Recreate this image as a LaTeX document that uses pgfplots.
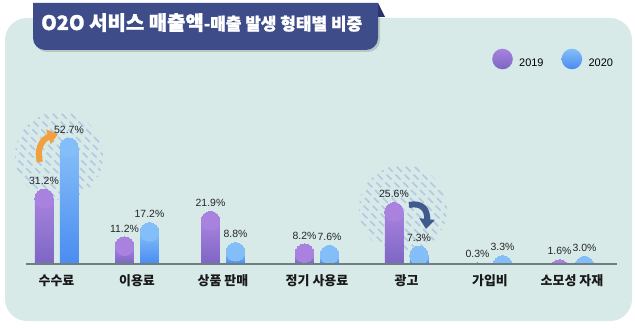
\documentclass[border=0pt]{standalone}
\usepackage{pgfplots}
\pgfplotsset{compat=1.18}
\usepackage{pgfplotstable}
\usepackage{fontspec}
\setmainfont{Liberation Sans}
\newfontfamily\kr{Noto Sans CJK KR}
\usetikzlibrary{arrows.meta}
\definecolor{panel}{HTML}{D7EAE8}
\definecolor{banner}{HTML}{3F4C8A}
\definecolor{bannerdk}{HTML}{2A3468}
\definecolor{pTop}{HTML}{A882DE}
\definecolor{pBot}{HTML}{7D66C4}
\definecolor{bTop}{HTML}{84BEF8}
\definecolor{bBot}{HTML}{4A8CF1}
\definecolor{baseln}{HTML}{6F7F80}
\definecolor{hatch}{HTML}{B4C7E4}
\definecolor{orng}{HTML}{F0A03E}
\definecolor{navyar}{HTML}{3E5A8E}
\pgfplotsset{/pgf/number format/assume math mode=true}
\pgfplotstableread{
x v19 v20
56.5 31.2 52.7
137 11.2 17.2
223 21.9 8.8
317 8.2 7.6
406.5 25.6 7.3
490 0.3 3.3
572 1.6 3.0
}\data
\def\rr{3.887}
\begin{document}
\begin{tikzpicture}[x=1bp,y=1bp]
\fill[white] (0,0) rectangle (635,327);
\begin{scope}[yshift=327bp,yscale=-1]
\fill[panel, rounded corners=22bp] (5,18) rectangle (632,321);
% banner shadow
\fill[black, opacity=0.15] (35,5) -- (380,5) -- (380,40) arc[start angle=0,end angle=90,radius=12] -- (47,52) arc[start angle=90,end angle=180,radius=12] -- cycle;
\fill[banner] (33,3) -- (378,3) -- (378,38) arc[start angle=0,end angle=90,radius=12] -- (45,50) arc[start angle=90,end angle=180,radius=12] -- cycle;
\fill[bannerdk] (378,3) -- (385,17) -- (378,17) -- cycle;
\node[anchor=base west, text=white, inner sep=0pt] at (41,30) {\kr\bfseries\addfontfeatures{FakeBold=1.3}{\fontsize{20}{22}\selectfont O2O 서비스 매출액}{\fontsize{17}{19}\selectfont -매출 발생 형태별 비중}};
% hatched circles
\begin{scope}
\clip (59,156) circle (44);
\foreach \i in {-117,-108,...,117} \draw[hatch, line width=1.6bp, dash pattern=on 7bp off 4bp] (59+\i-50,156-50) -- (59+\i+50,156+50);
\end{scope}
\begin{scope}
\clip (403,209) circle (44);
\foreach \i in {-117,-108,...,117} \draw[hatch, line width=1.6bp, dash pattern=on 7bp off 4bp] (403+\i-50,209-50) -- (403+\i+50,209+50);
\end{scope}
% arrows
\draw[orng, line width=6bp, -{Triangle[length=10bp,width=15bp]}] (40,162) .. controls (36,150) and (42,139) .. (58,134);
\draw[navyar, line width=6bp, -{Triangle[length=10bp,width=15bp]}] (409,205) .. controls (422,202) and (428,210) .. (426,229);
\end{scope}
\begin{axis}[
  at={(26bp,51.6bp)}, anchor=south west,
  scale only axis, width=591bp, height=154.7bp,
  xmin=26, xmax=617, ymin=-5, ymax=60,
  axis on top,
  axis x line=middle, axis y line=none,
  x axis line style={draw=baseln, line width=2bp, -},
  xtick={56.5,137,223,317,406.5,490,572},
  xticklabels={수수료,이용료,상품 판매,정기 사용료,광고,가입비,소모성 자재},
  xticklabel style={font=\kr\bfseries\fontsize{13}{15}\selectfont, text=black!90, anchor=north, yshift=-8bp},
  major tick length=0pt,
  ytick=\empty,
  clip marker paths=true,
  legend style={draw=none, fill=none, inner sep=0pt, at={(axis description cs:0.7885,1.3988)}, anchor=west, legend columns=2, font=\fontsize{11}{13}\selectfont, nodes={inner sep=0pt}, /tikz/every odd column/.append style={column sep=6.4bp}, /tikz/every even column/.append style={column sep=18bp}},
  legend image code/.code={\path[#1] (10.3bp,4bp) circle (10.3bp);},
]
\addlegendimage{draw=none, top color=pTop, bottom color=pBot}
\addlegendentry{2019}
\addlegendimage{draw=none, top color=bTop, bottom color=bBot}
\addlegendentry{2020}
% bars: one path per bar so that each bar gets its own shading
\pgfplotsinvokeforeach{20:100,100:180,180:270,270:360,360:450,450:530,530:620}{
\addplot[ybar, bar width=18.5bp, bar shift=0pt, draw=none, top color=pTop, bottom color=pBot, forget plot, restrict x to domain=#1]
  table[x expr=\thisrow{x}-12.5, y expr=\thisrow{v19}-\rr] {\data};
\addplot[ybar, bar width=18.5bp, bar shift=0pt, draw=none, top color=bTop, bottom color=bBot, forget plot, restrict x to domain=#1]
  table[x expr=\thisrow{x}+12.5, y expr=\thisrow{v20}-\rr] {\data};
}
% rounded tops
\addplot[pTop, only marks, mark=*, mark size=9.25bp, mark options={solid, draw=pTop, fill=pTop, line width=0pt}, forget plot]
  table[x expr=\thisrow{x}-12.5, y expr=\thisrow{v19}-\rr] {\data};
\addplot[bTop, only marks, mark=*, mark size=9.25bp, mark options={solid, draw=bTop, fill=bTop, line width=0pt}, forget plot]
  table[x expr=\thisrow{x}+12.5, y expr=\thisrow{v20}-\rr] {\data};
% hide the part of the bars below the baseline
\fill[panel] (axis cs:20,-6) rectangle (axis cs:625,0);
% labels
\addplot[draw=none, forget plot, point meta=explicit,
  nodes near coords={\pgfmathprintnumber[fixed,fixed zerofill,precision=1]{\pgfplotspointmeta}\%},
  every node near coord/.style={anchor=south, font=\fontsize{10.5}{12}\selectfont, text=black!85, inner sep=0pt, yshift=4.5bp}]
  table[x expr=\thisrow{x}-12.5, y=v19, meta=v19] {\data};
\addplot[draw=none, forget plot, point meta=explicit,
  nodes near coords={\pgfmathprintnumber[fixed,fixed zerofill,precision=1]{\pgfplotspointmeta}\%},
  every node near coord/.style={anchor=south, font=\fontsize{10.5}{12}\selectfont, text=black!85, inner sep=0pt, yshift=4.5bp}]
  table[x expr=\thisrow{x}+12.5, y=v20, meta=v20] {\data};
\end{axis}
\end{tikzpicture}
\end{document}
